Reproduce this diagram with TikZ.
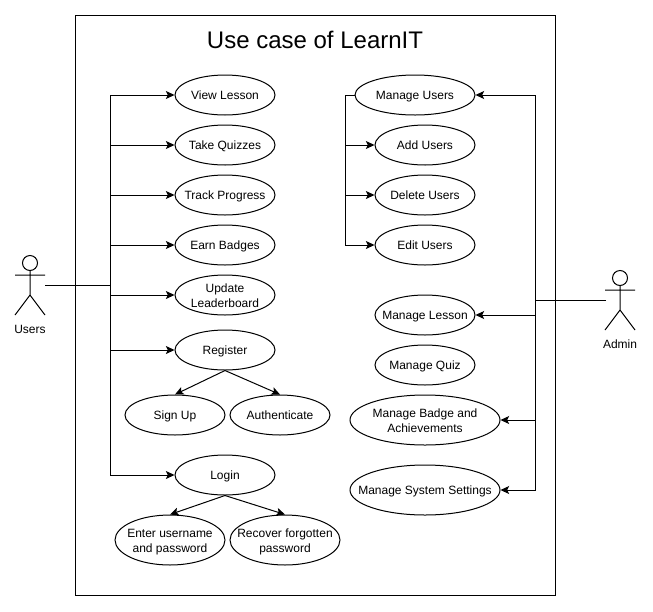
\documentclass[tikz,border=0pt]{standalone}
\usepackage{fontspec}
\setmainfont{Liberation Sans}
\usetikzlibrary{shapes.geometric,arrows.meta}
\newcommand{\uct}[1]{\makebox[0pt]{\smash{\raisebox{-3.4pt}{\begin{tabular}[c]{@{}c@{}}#1\end{tabular}}}}}
\tikzset{
 x=0.75pt,y=-0.75pt,
 uc/.style={draw,ellipse,fill=white,line width=0.75pt,minimum width=75pt,minimum height=30pt,inner sep=0pt,font=\fontsize{9}{11.25}\selectfont},
 ucwide/.style={uc,minimum width=112.5pt,minimum height=37.5pt},
 ucmid/.style={uc,minimum width=82.5pt,minimum height=37.5pt},
 link/.style={line width=0.75pt},
 arr/.style={link,-{Stealth[length=6.5pt,width=6pt,inset=1.5pt]}},
 fig/.style={line width=0.75pt,fill=none},
 lbl/.style={font=\fontsize{9}{11}\selectfont,inner sep=0pt},
}
\begin{document}
\begin{tikzpicture}
\useasboundingbox (0,0) rectangle (653,611);
\fill[white] (0,0) rectangle (653,611);
\node[draw,line width=0.75pt,minimum width=360pt,minimum height=435pt,inner sep=0pt,anchor=north west] (frame) at (75,15) {};
\node[font=\fontsize{18}{22}\selectfont,inner sep=0pt] (title) at (315,40) {Use case of LearnIT};
% left ellipses
\node[uc] (view) at (225,95) {\uct{View Lesson}};
\node[uc] (quiz) at (225,145) {\uct{Take Quizzes}};
\node[uc] (track) at (225,195) {\uct{Track Progress}};
\node[uc] (badge) at (225,245) {\uct{Earn Badges}};
\node[uc] (board) at (225,295) {\uct{Update\\Leaderboard}};
\node[uc] (reg) at (225,350) {\uct{Register}};
\node[uc] (sign) at (175,415) {\uct{Sign Up}};
\node[uc] (auth) at (280,415) {\uct{Authenticate}};
\node[uc] (login) at (225,475) {\uct{Login}};
\node[ucmid] (enter) at (170,540) {\uct{Enter username\\and password}};
\node[ucmid] (recover) at (285,540) {\uct{Recover forgotten\\password}};
% right ellipses
\node[uc,minimum width=90pt] (mu) at (415,95) {\uct{Manage Users}};
\node[uc] (add) at (425,145) {\uct{Add Users}};
\node[uc] (del) at (425,195) {\uct{Delete Users}};
\node[uc] (edit) at (425,245) {\uct{Edit Users}};
\node[uc] (ml) at (425,315) {\uct{Manage Lesson}};
\node[uc] (mq) at (425,365) {\uct{Manage Quiz}};
\node[ucwide] (mb) at (425,420) {\uct{Manage Badge and\\Achievements}};
\node[ucwide] (ms) at (425,490) {\uct{Manage System Settings}};
% actors
\draw[fig] (30,263) circle[radius=7.5];
\draw[fig] (30,270.5) -- (30,295) (15,275) -- (45,275) (30,295) -- (15,315) (30,295) -- (45,315);
\node[lbl] (ulabel) at (30,329) {Users};
\draw[fig] (620,278) circle[radius=7.5];
\draw[fig] (620,285.5) -- (620,310) (605,290) -- (635,290) (620,310) -- (605,330) (620,310) -- (635,330);
\node[lbl] (alabel) at (620,344) {Admin};
\coordinate (ua) at (45,285);
\coordinate (ub) at (110,285);
\coordinate (aa) at (606,300);
\coordinate (ab) at (535,300);
% users connectors
\draw[link] (ua) -- (ub);
\draw[arr] (ub) |- (view.west);
\draw[arr] (ub) |- (quiz.west);
\draw[arr] (ub) |- (track.west);
\draw[arr] (ub) |- (badge.west);
\draw[arr] (ub) |- (board.west);
\draw[arr] (ub) |- (reg.west);
\draw[arr] (ub) |- (login.west);
% admin
\draw[link] (aa) -- (ab);
\draw[arr] (ab) |- (mu.east);
\draw[arr] (ab) |- (ml.east);
\draw[arr] (ab) |- (mb.east);
\draw[arr] (ab) |- (ms.east);
% manage users
\coordinate (mj) at (345,95);
\draw[link] (mu.west) -- (mj);
\draw[arr] (mj) |- (add.west);
\draw[arr] (mj) |- (del.west);
\draw[arr] (mj) |- (edit.west);
% includes
\draw[arr] (reg.south) -- (sign.north);
\draw[arr] (reg.south) -- (auth.north);
\draw[arr] (login.south) -- (enter.north);
\draw[arr] (login.south) -- (recover.north);
\end{tikzpicture}
\end{document}
